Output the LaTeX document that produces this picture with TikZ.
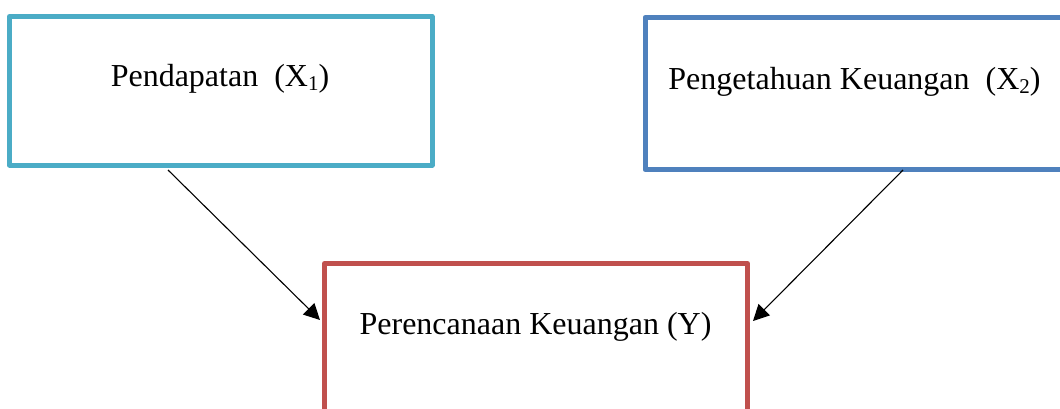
\documentclass[tikz,border=0pt]{standalone}
\usepackage{fontspec}
\setmainfont{Liberation Serif}
\usetikzlibrary{arrows.meta}
\definecolor{cyanbox}{HTML}{4BACC6}
\definecolor{bluebox}{HTML}{4F81BD}
\definecolor{redbox}{HTML}{C0504D}
\newcommand{\subx}[1]{\raisebox{-0.12em}{\fontsize{21}{21}\selectfont #1}}
\tikzset{
  boxframe/.style={draw, line width=5pt, line join=round, inner sep=0pt},
  boxtext/.style={anchor=base, inner sep=0pt, font=\fontsize{32}{36}\selectfont},
  arr/.style={-{Triangle[length=16pt,width=16pt]}, line width=1.1pt}
}
\begin{document}
\begin{tikzpicture}[x=1pt,y=-1pt]
\useasboundingbox (0,0) rectangle (1060,409);
\clip (0,0) rectangle (1060,409);
\fill[white] (0,0) rectangle (1060,409);
% boxes
\node[boxframe, draw=cyanbox, minimum width=422.5pt, minimum height=148.5pt] (b1) at (220.75,90.75) {};
\node[boxframe, draw=bluebox, minimum width=425pt, minimum height=152pt] (b2) at (857.5,93.5) {};
\node[boxframe, draw=redbox, minimum width=423pt, minimum height=170pt] (b3) at (536,348.5) {};
% texts
\node[boxtext] (t1) at (220,87) {Pendapatan\ \ (X\subx{1})};
\node[boxtext] (t2) at (854.5,90) {Pengetahuan Keuangan\ \ (X\subx{2})};
\node[boxtext] (t3) at (535.5,334) {Perencanaan Keuangan (Y)};
% connector end points
\coordinate (s1) at (168,170);
\coordinate (e1) at (320,320);
\coordinate (s2) at (903,170);
\coordinate (e2) at (753,321);
\draw[arr] (s1) -- (e1);
\draw[arr] (s2) -- (e2);
\end{tikzpicture}
\end{document}
